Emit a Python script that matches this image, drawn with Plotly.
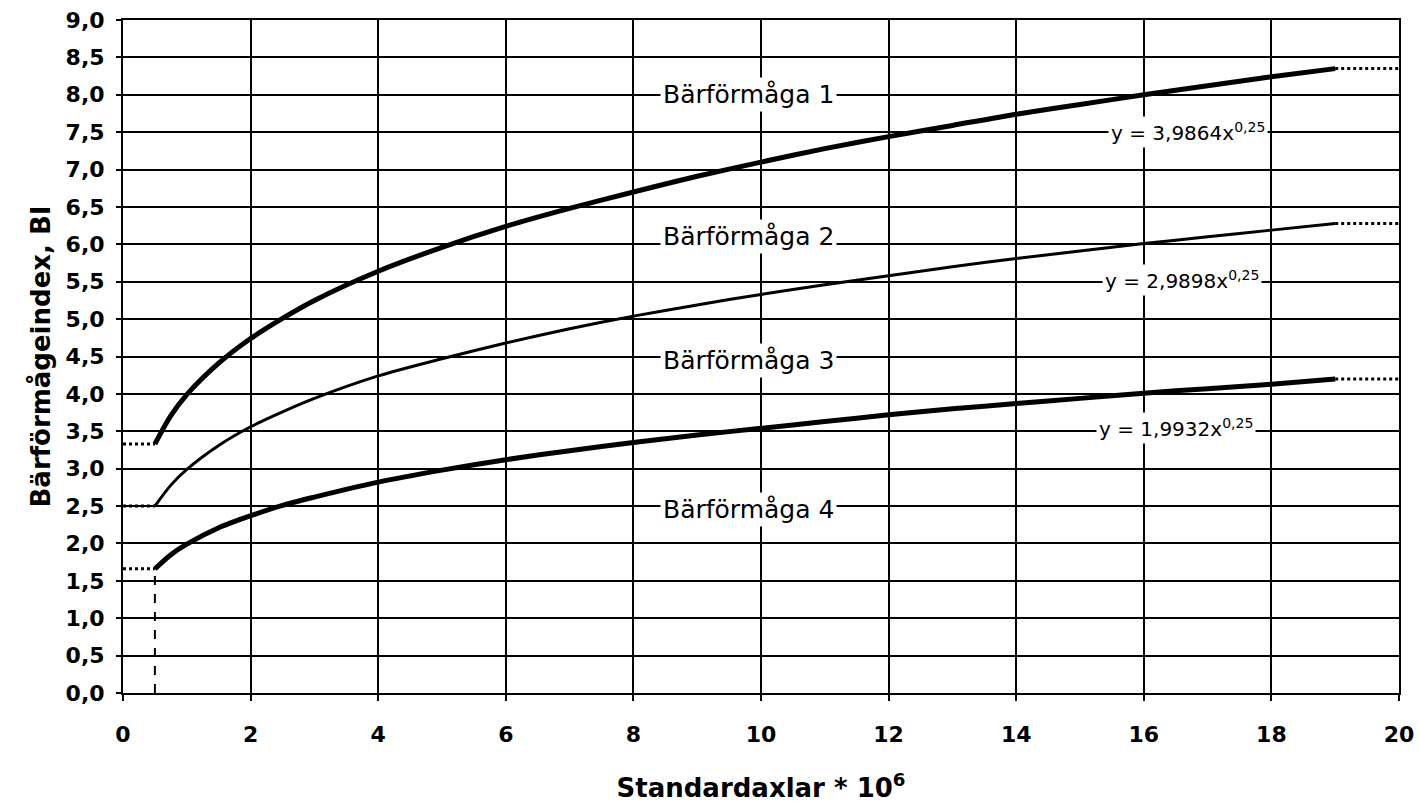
import plotly.graph_objects as go

# Standard axles (millions) at which the bearing capacity curves are read
x_vals = [0.5, 0.75, 1, 1.5, 2, 2.5, 3, 4, 5, 6, 7, 8, 9, 10, 11, 12, 13, 14, 15, 16, 17, 18, 19]

# Bearing capacity index for each class
bi_1 = [3.33, 3.71, 3.99, 4.41, 4.74, 5.01, 5.25, 5.64, 5.96, 6.24, 6.48, 6.70, 6.91,
        7.10, 7.28, 7.44, 7.59, 7.74, 7.87, 8.00, 8.12, 8.24, 8.35]
bi_2 = [2.50, 2.78, 2.99, 3.31, 3.56, 3.76, 3.94, 4.24, 4.47, 4.68, 4.87, 5.04, 5.19,
        5.33, 5.46, 5.58, 5.70, 5.81, 5.91, 6.01, 6.10, 6.19, 6.28]
bi_3 = [1.66, 1.85, 1.99, 2.21, 2.37, 2.51, 2.62, 2.82, 2.98, 3.12, 3.24, 3.35, 3.45,
        3.54, 3.63, 3.72, 3.80, 3.87, 3.94, 4.01, 4.07, 4.13, 4.20]

series = [bi_1, bi_2, bi_3]
widths = [5, 3, 5]

class_names = ["Bärförmåga 1", "Bärförmåga 2", "Bärförmåga 3", "Bärförmåga 4"]
class_pos = [(9.8, 8.0), (9.8, 6.1), (9.8, 4.45), (9.8, 2.45)]

equations = ["y = 3,9864x<sup>0,25</sup>", "y = 2,9898x<sup>0,25</sup>", "y = 1,9932x<sup>0,25</sup>"]
eq_pos = [(16.7, 7.5), (16.6, 5.52), (16.5, 3.55)]

x_ticks = list(range(0, 21, 2))
y_ticks = [i * 0.5 for i in range(19)]
y_tick_text = [f"{v:.1f}".replace(".", ",") for v in y_ticks]

x_min, x_max = 0, 20

fig = go.Figure()

for ys, w in zip(series, widths):
    # fitted power curve
    fig.add_trace(go.Scatter(x=x_vals, y=ys, mode="lines",
                             line=dict(color="black", width=w, shape="spline", smoothing=0.8),
                             showlegend=False, hoverinfo="skip"))
    # dotted extensions towards the plot edges
    fig.add_trace(go.Scatter(x=[x_min, x_vals[0]], y=[ys[0], ys[0]], mode="lines",
                             line=dict(color="black", width=3, dash="dot"),
                             showlegend=False, hoverinfo="skip"))
    fig.add_trace(go.Scatter(x=[x_vals[-1], x_max], y=[ys[-1], ys[-1]], mode="lines",
                             line=dict(color="black", width=3, dash="dot"),
                             showlegend=False, hoverinfo="skip"))

# dashed drop line at the start of the lowest curve
fig.add_trace(go.Scatter(x=[x_vals[0], x_vals[0]], y=[0, bi_3[0]], mode="lines",
                         line=dict(color="black", width=2, dash="dash"),
                         showlegend=False, hoverinfo="skip"))

label_font = dict(family="DejaVu Sans", size=25, color="black")
for name, (lx, ly) in zip(class_names, class_pos):
    fig.add_annotation(x=lx, y=ly, text=name, showarrow=False, font=label_font,
                       bgcolor="white", borderpad=2)

eq_font = dict(family="DejaVu Sans", size=20, color="black")
for txt, (ex, ey) in zip(equations, eq_pos):
    fig.add_annotation(x=ex, y=ey, text=txt, showarrow=False, font=eq_font,
                       bgcolor="white", borderpad=2)

tick_font = dict(family="DejaVu Sans", size=22, color="black", weight="bold")
title_font = dict(family="DejaVu Sans", size=26, color="black", weight="bold")

fig.update_layout(
    width=1419, height=806,
    margin=dict(l=123, r=20, t=20, b=113),
    paper_bgcolor="white", plot_bgcolor="white",
    xaxis=dict(range=[x_min, x_max], tickvals=x_ticks, ticktext=[str(v) for v in x_ticks],
               showgrid=True, gridcolor="black", gridwidth=2,
               showline=True, linecolor="black", linewidth=2, mirror=True,
               ticks="outside", ticklen=6, tickwidth=2, tickcolor="black",
               tickfont=tick_font, ticklabelstandoff=15, zeroline=False, automargin=False,
               title=dict(text="Standardaxlar * 10<sup>6</sup>", standoff=32, font=title_font)),
    yaxis=dict(range=[0, 9], tickvals=y_ticks, ticktext=y_tick_text,
               showgrid=True, gridcolor="black", gridwidth=2,
               showline=True, linecolor="black", linewidth=2, mirror=True,
               ticks="outside", ticklen=5, tickwidth=2, tickcolor="black",
               tickfont=tick_font, ticklabelstandoff=7, zeroline=False, automargin=False,
               title=dict(text="Bärförmågeindex, BI", standoff=8, font=title_font)),
)

fig.write_html("out.html")
